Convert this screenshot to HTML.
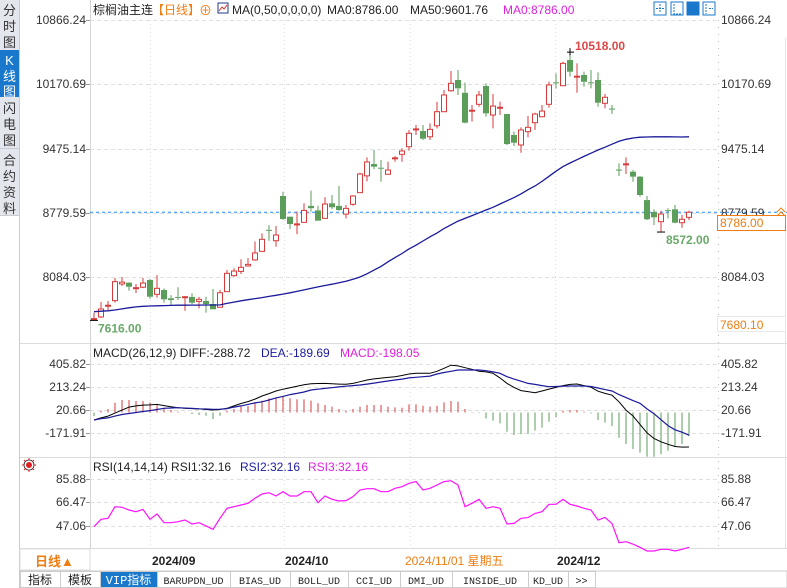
<!DOCTYPE html>
<html><head><meta charset="utf-8"><style>
body{margin:0;background:#fff;width:787px;height:588px;overflow:hidden;font-family:"Liberation Sans","Noto Sans CJK SC",sans-serif}
svg{display:block}
text{font-family:"Liberation Sans","Noto Sans CJK SC",sans-serif}
</style></head><body>
<svg id="chart" width="787" height="588" viewBox="0 0 787 588" xmlns="http://www.w3.org/2000/svg">
<g id="frame">
<rect x="0" y="0" width="19" height="216" fill="#e4e6ee"/>
<line x1="19.5" y1="0" x2="19.5" y2="588" stroke="#c8cbd4"/>
<rect x="0" y="50" width="19" height="47" fill="#1a78cc"/>
<line x1="0" y1="148.5" x2="19" y2="148.5" stroke="#c8cbd4"/>
<line x1="0" y1="215.5" x2="19" y2="215.5" stroke="#c8cbd4"/>
<g font-size="13" fill="#333" text-anchor="middle">
<text x="9.5" y="15">分</text><text x="9.5" y="31">时</text><text x="9.5" y="47">图</text>
<text x="9.5" y="65" fill="#fff">K</text><text x="9.5" y="81" fill="#fff">线</text><text x="9.5" y="96" fill="#fff">图</text>
<text x="9.5" y="113">闪</text><text x="9.5" y="129">电</text><text x="9.5" y="145">图</text>
<text x="9.5" y="165">合</text><text x="9.5" y="181">约</text><text x="9.5" y="197">资</text><text x="9.5" y="213">料</text>
</g>
<line x1="20" y1="343.5" x2="787" y2="343.5" stroke="#dcdcdc"/>
<line x1="20" y1="457.5" x2="787" y2="457.5" stroke="#dcdcdc"/>
<line x1="20" y1="548.5" x2="787" y2="548.5" stroke="#dcdcdc"/>
<line x1="90.5" y1="0" x2="90.5" y2="548" stroke="#d4d4d4"/>
<line x1="785.5" y1="38" x2="785.5" y2="548" stroke="#e4e4e4"/>
</g>
<g id="grid"></g>
<g id="marks"></g>
<g id="labels"></g>
<g font-size="12">
<text x="93" y="14" fill="#222">棕榈油主连</text>
<text x="152" y="14" fill="#f07d12">【日线】</text>
<text x="199" y="15" fill="#f07d12" font-size="13">⊕</text>
<rect x="218" y="3" width="10" height="10" fill="#fff" stroke="#223a8c"/>
<polyline points="219,11 222,7 224,9 227,5" fill="none" stroke="#e03030"/>
<text x="232" y="14" fill="#222">MA(0,50,0,0,0,0)</text>
<text x="327" y="14" fill="#222">MA0:8786.00</text>
<text x="410" y="14" fill="#222">MA50:9601.76</text>
<text x="503" y="14" fill="#e020e0">MA0:8786.00</text>
</g>
<g>
<rect x="654" y="2" width="12" height="13" fill="#fff" stroke="#1a78cc"/>
<rect x="671" y="2" width="12" height="13" fill="#fff" stroke="#1a78cc"/>
<rect x="687" y="2" width="12" height="13" fill="#1a78cc" stroke="#1a78cc"/>
<rect x="703" y="2" width="12" height="13" fill="#fff" stroke="#1a78cc"/>
<path d="M660 4v9M656 8.5h8M674 4v10h7M690 4v10h7M706 4v10M709 8.5h4" stroke="#1a78cc" fill="none" stroke-dasharray="2,1"/>
</g>
<g font-size="12">
<text x="93" y="357" fill="#222">MACD(26,12,9) DIFF:-288.72</text>
<text x="261" y="357" fill="#1c1ca0">DEA:-189.69</text>
<text x="340" y="357" fill="#e020e0">MACD:-198.05</text>
</g>
<g font-size="12">
<text x="93" y="471" fill="#222">RSI(14,14,14) RSI1:32.16</text>
<text x="240" y="471" fill="#1c1ca0">RSI2:32.16</text>
<text x="308" y="471" fill="#e020e0">RSI3:32.16</text>
</g>
<g>
<circle cx="29" cy="465" r="3" fill="#e02020"/><circle cx="29" cy="465" r="5" fill="none" stroke="#222" stroke-width="0.8"/>
<path d="M29 458v2M29 470v2M22 465h2M34 465h2M24 460l1.5 1.5M32.5 468.5l1.5 1.5M34 460l-1.5 1.5M24 470l1.5-1.5" stroke="#e02020"/>
</g>
<g>
<rect x="20" y="549" width="70" height="21" fill="#fff" stroke="#ddd"/>
<text x="35" y="566" font-size="13" fill="#f07d12" font-weight="bold">日线▲</text>
<text x="152" y="565" font-size="12" fill="#222" font-weight="bold">2024/09</text>
<text x="285" y="565" font-size="12" fill="#222" font-weight="bold">2024/10</text>
<text x="405" y="565" font-size="12" fill="#f07d12">2024/11/01 星期五</text>
<text x="557" y="565" font-size="12" fill="#222" font-weight="bold">2024/12</text>
</g>
<g id="tabs" font-size="11">
<rect x="20" y="571" width="767" height="17" fill="#fff" stroke="#ccc"/>
</g>
</svg>
<script>
const opens=[7625,7653,7770,7830,8010,8024,7960,7975,8053,7898,7945,7855,7870,7866,7870,7822,7826,7793,7758,7927,8100,8146,8205,8270,8363,8596,8478,8962,8738,8650,8677,8855,8806,8720,8883,8855,8766,8872,8998,9180,9308,9268,9197,9365,9413,9495,9678,9665,9603,9722,9874,10101,10217,10079,9880,9954,10152,9838,9912,9849,9622,9514,9658,9755,9820,9954,10192,10155,10433,10248,10271,10192,10217,9965,9908,9248,9300,9225,9171,8918,8789,8684,8808,8818,8673,8731];
const highs=[7700,7815,7826,8075,8085,8030,8010,8075,8065,8106,7963,7890,7974,7880,7910,7870,7872,7956,7945,8162,8180,8277,8290,8470,8558,8645,8637,9008,8738,8793,8884,9020,8855,8950,8972,9070,8865,8972,9214,9380,9460,9351,9333,9394,9478,9676,9730,9730,9748,9982,10109,10314,10325,10188,9946,10098,10181,10065,9982,9849,9658,9705,9827,9863,9946,10198,10289,10415,10518,10397,10307,10325,10300,10065,9946,9315,9380,9243,9178,8962,8818,8803,8829,8864,8756,8803];
const lows=[7616,7642,7728,7808,7990,7937,7912,7965,7850,7862,7808,7782,7836,7720,7793,7746,7700,7736,7758,7927,8088,8118,8197,8262,8363,8477,8413,8703,8605,8550,8677,8793,8695,8720,8820,8803,8720,8857,8998,9120,9251,9116,9197,9333,9333,9452,9622,9568,9568,9694,9874,10090,10055,9748,9766,9928,9820,9694,9838,9514,9503,9430,9597,9676,9813,9917,10127,10155,10253,10079,10144,10127,9928,9911,9849,9178,9200,9116,8954,8702,8648,8572,8720,8667,8619,8702];
const closes=[7635,7739,7780,8035,8030,7980,7970,8020,7872,7963,7844,7836,7862,7872,7808,7844,7793,7736,7915,8125,8150,8190,8222,8346,8493,8590,8540,8713,8659,8660,8806,8830,8695,8875,8840,8810,8828,8962,9200,9330,9279,9258,9243,9375,9449,9640,9688,9582,9683,9874,10055,10181,10127,9755,9890,10055,9856,9935,9922,9524,9538,9676,9705,9849,9881,10163,10184,10397,10307,10258,10198,10184,9971,10030,9898,9238,9310,9171,8972,8710,8731,8767,8798,8673,8710,8786];
const ma50=[7710,7715,7720,7728,7740,7752,7762,7768,7772,7774,7776,7778,7780,7780,7781,7781,7782,7782,7784,7800,7814,7828,7840,7852,7863,7876,7888,7900,7915,7930,7946,7962,7978,7993,8008,8024,8040,8062,8085,8120,8160,8200,8250,8295,8340,8390,8430,8475,8520,8560,8610,8650,8690,8720,8750,8780,8810,8840,8875,8910,8945,8985,9030,9070,9120,9175,9230,9280,9319,9355,9390,9425,9460,9490,9522,9554,9575,9590,9598,9600,9602,9602,9602,9601,9600,9602];
const diffVals=[-63,-45,-30,-5,20,45,55,62,64,68,58,48,40,36,33,30,25,21,25,35,55,75,91,112,138,158,180,195,208,220,232,240,243,244,240,238,236,244,258,272,281,288,294,300,310,322,328,328,328,345,370,396,390,375,362,345,340,328,290,244,210,183,175,166,180,196,210,225,235,239,225,212,178,160,145,90,20,-29,-100,-170,-218,-245,-266,-285,-290,-289];
const deaVals=[-63,-52,-45,-30,-17,-8,0,8,16,25,35,38,40,37,34,31,29,27,28,33,45,55,68,80,90,105,122,135,150,160,172,188,195,202,208,214,220,225,230,238,246,255,264,272,280,290,295,300,305,322,335,345,356,356,356,356,350,340,328,300,280,262,244,235,225,216,218,220,222,222,222,218,205,192,180,150,125,100,77,30,-10,-60,-110,-145,-165,-190];
const macdVals=[-30,15,29,82,105,105,96,96,85,63,40,21,7,2,-13,-21,-27,-54,-27,15,29,49,54,77,99,119,127,134,119,110,110,99,77,63,49,29,15,29,49,63,63,63,49,43,40,68,68,57,49,57,85,96,91,29,3,-5,-49,-68,-91,-161,-188,-182,-179,-152,-127,-77,-40,15,21,21,7,-7,-63,-85,-113,-211,-264,-306,-336,-370,-370,-350,-320,-286,-264,-198];
const rsiVals=[46.5,52.6,53.4,63.0,62.5,60.3,58.9,60.8,52.6,57.0,49.8,49.8,50.6,52.0,48.7,49.8,47.1,44.3,53.4,61.7,63.0,64.4,65.8,69.9,73.5,74.6,71.8,75.4,71.8,71.8,75.4,75.4,66.3,71.8,69.1,67.7,68.0,71.3,76.8,77.9,77.9,75.4,75.4,78.2,79.5,82.3,83.7,76.8,78.2,80.9,83.7,84.5,80.9,63.0,65.8,69.1,61.7,63.0,61.7,48.7,49.2,53.4,54.0,57.5,58.9,65.0,65.0,69.1,65.0,63.6,61.7,60.3,52.0,54.2,49.0,33.3,34.1,32.0,29.5,26.4,26.4,27.8,27.8,26.4,27.8,29.5];
const priceTicks=["10866.24","10170.69","9475.14","8779.59","8084.03"];
const macdTicks=["405.82","213.24","20.66","-171.91"];
const rsiTicks=["85.88","66.47","47.06"];
const tabNames=["指标","模板","VIP指标","BARUPDN_UD","BIAS_UD","BOLL_UD","CCI_UD","DMI_UD","INSIDE_UD","KD_UD",">>"];

const NS="http://www.w3.org/2000/svg";
const xOf=i=>94+7*i;
const yP=p=>20+(10866.24-p)/10.82;
const yM=v=>412.5-v/8.373;
const yR=v=>479+(85.88-v)/0.826;
function mk(tag,attrs,parent){const e=document.createElementNS(NS,tag);for(const k in attrs)e.setAttribute(k,attrs[k]);parent.appendChild(e);return e;}
const grid=document.getElementById('grid'),marks=document.getElementById('marks'),labels=document.getElementById('labels');

function hgrid(y){mk('line',{x1:90,y1:y+0.5,x2:718,y2:y+0.5,stroke:'#e0e0e0','stroke-dasharray':'4,3'},grid);}
function tickLabels(vals,yf,cls){vals.forEach(t=>{const v=parseFloat(t);const y=Math.round(yf(v));hgrid(y);
 const a=mk('text',{x:86,y:y+4,'font-size':12,fill:'#333','text-anchor':'end'},labels);a.textContent=t;
 
 
 mk('line',{x1:86,y1:y+0.5,x2:90,y2:y+0.5,stroke:'#999'},labels);
 const b=mk('text',{x:721,y:y+4,'font-size':12,fill:'#333'},labels);b.textContent=t;
 
 });}
tickLabels(priceTicks,yP,'price');
tickLabels(macdTicks,yM,'macd');
tickLabels(rsiTicks,yR,'rsi');
[150,284,410,555].forEach(x=>mk('line',{x1:x+0.5,y1:20,x2:x+0.5,y2:548,stroke:'#e0e0e0','stroke-dasharray':'1,3'},grid));
mk('line',{x1:718.5,y1:20,x2:718.5,y2:548,stroke:'#bbb','stroke-dasharray':'1,6'},grid);

const lp=mk('line',{x1:90,y1:yP(8786),x2:787,y2:yP(8786),stroke:'#1e8cff','stroke-dasharray':'3,3'},marks);



opens.forEach((o,i)=>{const c=closes[i],x=xOf(i),up=c>=o;
 const col=up?'#d83a3a':'#5a9e5a';
 const top=yP(Math.max(o,c)),bot=yP(Math.min(o,c));
 const g=mk('g',{},marks);
 
 
 mk('line',{x1:x,y1:yP(highs[i]),x2:x,y2:top,stroke:col},g);
 mk('line',{x1:x,y1:bot,x2:x,y2:yP(lows[i]),stroke:col},g);
 const h=Math.max(bot-top,1);
 if(up) mk('rect',{x:x-2.5,y:top,width:5,height:h,fill:'#fff',stroke:col},g);
 else mk('rect',{x:x-3,y:top,width:6,height:h,fill:col},g);
});
const maPts=ma50.map((v,i)=>xOf(i)+','+yP(v).toFixed(1)).join(' ');
const ma=mk('polyline',{points:maPts,fill:'none',stroke:'#1a1a9a','stroke-width':1.3},marks);



let hi=0,lo=0;highs.forEach((v,i)=>{if(v>highs[hi])hi=i;});lows.forEach((v,i)=>{if(v<lows[lo])lo=i;});
let lo2=0;lows.forEach((v,i)=>{if(i<30&&v<lows[lo2])lo2=i;});
let lo3=60;lows.forEach((v,i)=>{if(i>=60&&v<lows[lo3])lo3=i;});
mk('path',{d:`M${xOf(hi)-3} ${yP(highs[hi])}h7M${xOf(hi)} ${yP(highs[hi])-4}v7`,stroke:'#000'},marks);
const ht=mk('text',{x:xOf(hi)+5,y:yP(highs[hi])-2,'font-size':12,'font-weight':'bold',fill:'#e04848'},labels);ht.textContent=highs[hi].toFixed(2);


mk('path',{d:`M${xOf(lo3)-4} ${yP(lows[lo3])}h8`,stroke:'#000'},marks);
const lt=mk('text',{x:xOf(lo3)+5,y:yP(lows[lo3])+12,'font-size':12,'font-weight':'bold',fill:'#6aa86a'},labels);lt.textContent=lows[lo3].toFixed(2);


mk('path',{d:`M${xOf(lo2)-4} ${yP(lows[lo2])}h8`,stroke:'#000'},marks);
const lt2=mk('text',{x:xOf(lo2)+4,y:yP(lows[lo2])+12,'font-size':12,'font-weight':'bold',fill:'#6aa86a'},labels);lt2.textContent=lows[lo2].toFixed(2);



const pb=mk('rect',{x:717.5,y:215.5,width:68,height:15,fill:'#fff',stroke:'#f07d12'},labels);


const pbt=mk('text',{x:720,y:227,'font-size':12,fill:'#f07d12'},labels);pbt.textContent='8786.00';
mk('path',{d:'M777 212l4-4 4 4M777 216l4-4 4 4',stroke:'#f07d12',fill:'none'},labels);
mk('rect',{x:717.5,y:316.5,width:68,height:15,fill:'#fff',stroke:'#e8e8e8'},labels);
const lb=mk('text',{x:720,y:329,'font-size':12,fill:'#f07d12'},labels);lb.textContent='7680.10';



macdVals.forEach((v,i)=>{const b=mk('line',{x1:xOf(i),y1:yM(0),x2:xOf(i),y2:yM(v),stroke:v>=0?'#d83a3a':'#5a9e5a'},marks);
 
 });
const dl=mk('polyline',{points:diffVals.map((v,i)=>xOf(i)+','+yM(v).toFixed(1)).join(' '),fill:'none',stroke:'#000'},marks);


const el=mk('polyline',{points:deaVals.map((v,i)=>xOf(i)+','+yM(v).toFixed(1)).join(' '),fill:'none',stroke:'#1a1a9a','stroke-width':1.2},marks);


const rl=mk('polyline',{points:rsiVals.map((v,i)=>xOf(i)+','+yR(v).toFixed(1)).join(' '),fill:'none',stroke:'#ff10ff','stroke-width':1.2},marks);



const tabs=document.getElementById('tabs');
const tabW=[40,40,57,73,60,58,52,52,76,40,27];
let tx=20;
tabNames.forEach((n,i)=>{const w=tabW[i];const active=n==='VIP指标';
 const r=mk('rect',{x:tx+0.5,y:571.5,width:w,height:16,fill:active?'#1a78cc':'#fff',stroke:'#ccc'},tabs);
 
 
 const t=mk('text',{x:tx+w/2,y:584,'text-anchor':'middle','font-size':i<3?12:10,fill:active?'#fff':'#222'},tabs);
 t.setAttribute('style','font-family:"Liberation Mono","Noto Sans CJK SC",monospace');
 t.textContent=n;tx+=w;});
</script>
</body></html>
